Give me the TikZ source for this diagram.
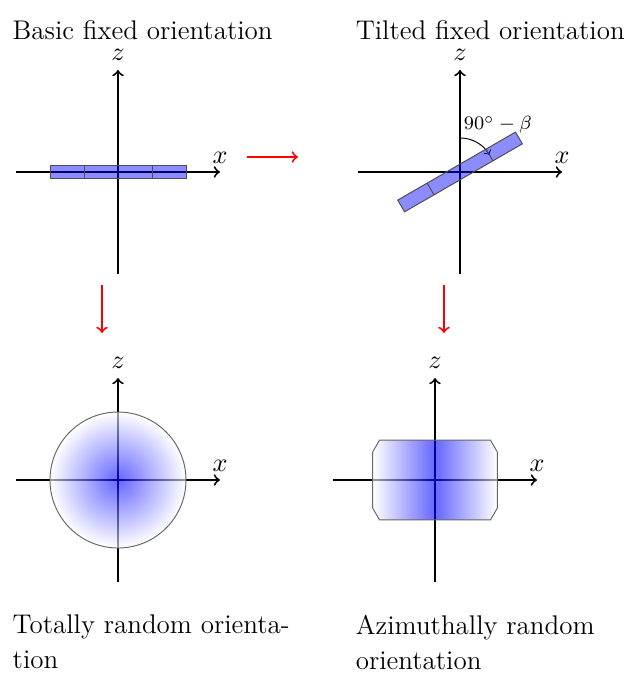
\documentclass[tikz,border=0pt]{standalone}
\usepackage{amsmath,amssymb}
\usepackage{tikz}

\begin{document}
\begin{tikzpicture}[
    axis/.style={->,thick},
    move/.style={->,thick,red},
    rod/.style={draw=black!70,fill=blue,fill opacity=0.45},
    captext/.style={anchor=north west,inner sep=0pt,align=left,font=\fontsize{11.3}{14.5}\selectfont},
    lbl/.style={font=\fontsize{11.3}{13}\selectfont},
    zlbl/.style={above,inner sep=0.5pt,yshift=3pt,font=\fontsize{11.3}{13}\selectfont}
  ]
    \useasboundingbox (0,0) rectangle (9.176,-9.897);

    % basic fixed orientation
    \begin{scope}[shift={(1.735,-2.529)}]
      \draw[axis] (-1.5,0) -- (1.5,0) node[above,lbl] (xA) {$x$};
      \draw[axis] (0,-1.5) -- (0,1.5) node[zlbl] (zA) {$z$};
      \draw[rod] (-1,-0.1) rectangle (1,0.1);
      \draw[black!70] (-0.5,-0.1) -- (-0.5,0.1) (0.5,-0.1) -- (0.5,0.1);
    \end{scope}

    % tilted fixed orientation
    \begin{scope}[shift={(6.765,-2.529)}]
      \draw[axis] (-1.5,0) -- (1.5,0) node[above,lbl] (xB) {$x$};
      \draw[axis] (0,-1.5) -- (0,1.5) node[zlbl] (zB) {$z$};
      \draw[->] (0,0.5) arc (90:30:0.5);
      \node[anchor=base west,inner sep=0pt,font=\fontsize{8}{9.5}\selectfont] (beta) at (0.05,0.62) {$90^\circ-\beta$};
      \begin{scope}[rotate=30]
        \draw[rod] (-1,-0.1) rectangle (1,0.1);
        \draw[black!70] (-0.5,-0.1) -- (-0.5,0.1) (0.5,-0.1) -- (0.5,0.1);
      \end{scope}
    \end{scope}

    % totally random orientation
    \begin{scope}[shift={(1.735,-7.059)}]
      \draw[axis] (-1.5,0) -- (1.5,0) node[above,lbl] (xC) {$x$};
      \draw[axis] (0,-1.5) -- (0,1.5) node[zlbl] (zC) {$z$};
      \shade[inner color=blue,outer color=white,opacity=0.6] (0,0) circle (1);
      \draw[black!60] (0,0) circle (1);
    \end{scope}

    % azimuthally random orientation
    \begin{scope}[shift={(6.397,-7.059)}]
      \draw[axis] (-1.5,0) -- (1.5,0) node[above,lbl] (xD) {$x$};
      \draw[axis] (0,-1.5) -- (0,1.5) node[zlbl] (zD) {$z$};
      \shade[left color=white,right color=white,middle color=blue,opacity=0.6]
        (-0.816,0.587) -- (0.816,0.587) -- (0.916,0.413) -- (0.916,-0.413)
        -- (0.816,-0.587) -- (-0.816,-0.587) -- (-0.916,-0.413) -- (-0.916,0.413) -- cycle;
      \draw[black!60]
        (-0.816,0.587) -- (0.816,0.587) -- (0.916,0.413) -- (0.916,-0.413)
        -- (0.816,-0.587) -- (-0.816,-0.587) -- (-0.916,-0.413) -- (-0.916,0.413) -- cycle;
    \end{scope}

    % captions
    \node[captext] (capA) at (0.18,-0.3) {Basic fixed orientation};
    \node[captext] (capB) at (5.225,-0.3) {Tilted fixed orientation};
    \node[captext] (capC) at (0.18,-9.04) {Totally random orienta-\\tion};
    \node[captext] (capD) at (5.225,-9.04) {Azimuthally random\\orientation};

    % red arrows between the cases
    \coordinate (ab1) at (3.632,-2.309);
    \coordinate (ab2) at (4.382,-2.309);
    \coordinate (ac1) at (1.5,-4.191);
    \coordinate (ac2) at (1.5,-4.897);
    \coordinate (bd1) at (6.529,-4.191);
    \coordinate (bd2) at (6.529,-4.897);
    \draw[move] (ab1) -- (ab2);
    \draw[move] (ac1) -- (ac2);
    \draw[move] (bd1) -- (bd2);
  \end{tikzpicture}
\end{document}
